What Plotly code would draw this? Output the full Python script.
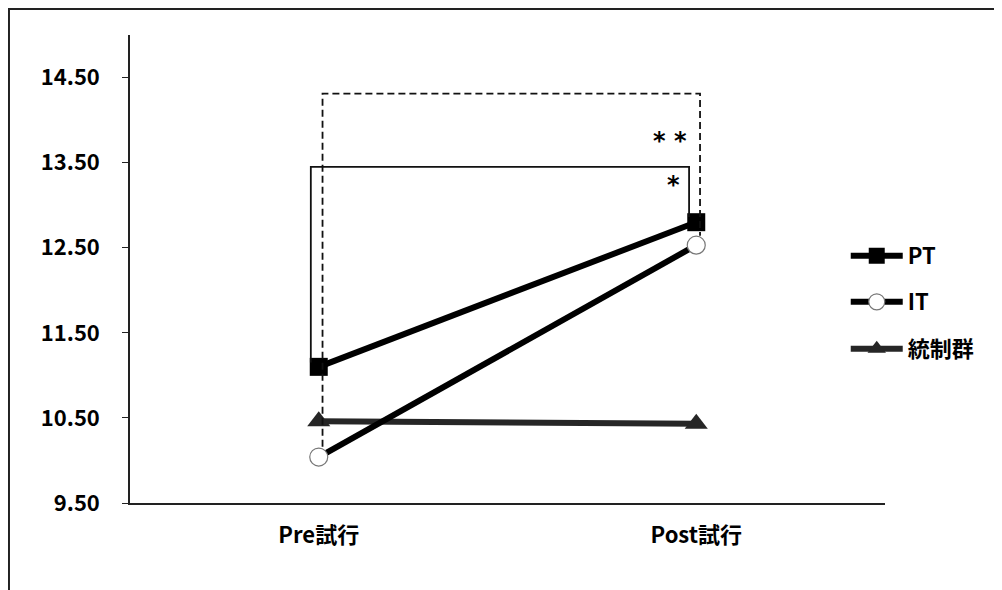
import plotly.graph_objects as go

categories = ["Pre試行", "Post試行"]
series_names = ["PT", "IT", "統制群"]
pt_values = [11.10, 12.80]
it_values = [10.04, 12.53]
ctrl_values = [10.46, 10.43]

y_ticks = [9.5, 10.5, 11.5, 12.5, 13.5, 14.5]
y_tick_labels = ["9.50", "10.50", "11.50", "12.50", "13.50", "14.50"]

# significance brackets (category index, value)
solid_bracket_x = [-0.021, -0.021, 0.981, 0.981]
solid_bracket_y = [11.15, 13.45, 13.45, 12.86]
dashed_bracket_x = [0.01, 0.01, 1.01, 1.01]
dashed_bracket_y = [10.16, 14.31, 14.31, 12.64]
star_labels = ["* *", "*"]
star_x = [0.93, 0.94]
star_y = [13.76, 13.24]

FONT = "Noto Sans CJK JP"

fig = go.Figure()

fig.add_trace(go.Scatter(x=solid_bracket_x, y=solid_bracket_y, mode="lines",
                         line=dict(color="#111", width=1.8), showlegend=False,
                         hoverinfo="skip", xaxis="x2"))
fig.add_trace(go.Scatter(x=dashed_bracket_x, y=dashed_bracket_y, mode="lines",
                         line=dict(color="#111", width=1.8, dash="7px,4px"), showlegend=False,
                         hoverinfo="skip", xaxis="x2"))

fig.add_trace(go.Scatter(x=categories, y=ctrl_values, name=series_names[2], mode="lines+markers",
                         line=dict(color="#262626", width=6),
                         marker=dict(symbol="triangle-up", size=20, color="#262626"),
                         legend="legend3"))
fig.add_trace(go.Scatter(x=categories, y=pt_values, name=series_names[0], mode="lines+markers",
                         line=dict(color="#000", width=6),
                         marker=dict(symbol="square", size=18, color="#000"),
                         legend="legend"))
fig.add_trace(go.Scatter(x=categories, y=it_values, name=series_names[1], mode="lines+markers",
                         line=dict(color="#000", width=6),
                         marker=dict(symbol="circle", size=18, color="white",
                                     line=dict(color="#777", width=1.2)),
                         legend="legend2"))

for lbl, sx, sy in zip(star_labels, star_x, star_y):
    fig.add_annotation(x=sx, y=sy, xref="x2", yref="y", text=lbl, showarrow=False,
                       font=dict(family="DejaVu Sans", size=24, color="#000", weight="bold"))

# outer frame (page body margin puts figure origin at the frame corner)
fig.add_shape(type="rect", xref="paper", yref="paper", x0=-0.1603, x1=1.3, y0=-0.4, y1=1.0555,
              line=dict(color="#222", width=2), fillcolor="rgba(0,0,0,0)", layer="below")

leg_common = dict(x=0.948, xanchor="left", yanchor="middle", bgcolor="rgba(0,0,0,0)",
                  font=dict(family=FONT, size=22, color="#000", weight="bold"), itemwidth=52,
                  traceorder="normal")

fig.update_layout(
    width=994, height=582,
    margin=dict(l=122, r=117, t=27, b=87, autoexpand=False),
    paper_bgcolor="white", plot_bgcolor="white",
    font=dict(family=FONT, color="#000"),
    xaxis=dict(type="category", range=[-0.5, 1.5], showline=True, linecolor="#222", linewidth=1.5,
               ticks="", tickfont=dict(family=FONT, size=22, color="#000", weight="bold"),
               showgrid=False, zeroline=False, ticklabelstandoff=12, automargin=False),
    xaxis2=dict(overlaying="x", range=[-0.5, 1.5], visible=False),
    yaxis=dict(range=[9.5, 15.0], tickvals=y_ticks, ticktext=y_tick_labels, showline=True,
               linecolor="#222", linewidth=1.5, ticks="outside", ticklen=6, tickcolor="#222",
               tickfont=dict(family=FONT, size=22, color="#000", weight="bold"),
               showgrid=False, zeroline=False, ticklabelstandoff=18, automargin=False),
    legend=dict(y=0.528, **leg_common),
    legend2=dict(y=0.4295, **leg_common),
    legend3=dict(y=0.329, **leg_common),
)

fig.add_trace(go.Scatter(x=[0.5, 0.5], y=[9.5, 9.42], mode="lines", line=dict(color="#222", width=1.5),
                         showlegend=False, hoverinfo="skip", xaxis="x2", cliponaxis=False))
fig.add_trace(go.Scatter(x=[1.5, 1.5], y=[9.5, 9.42], mode="lines", line=dict(color="#222", width=1.5),
                         showlegend=False, hoverinfo="skip", xaxis="x2", cliponaxis=False))

fig.write_html("out.html")
